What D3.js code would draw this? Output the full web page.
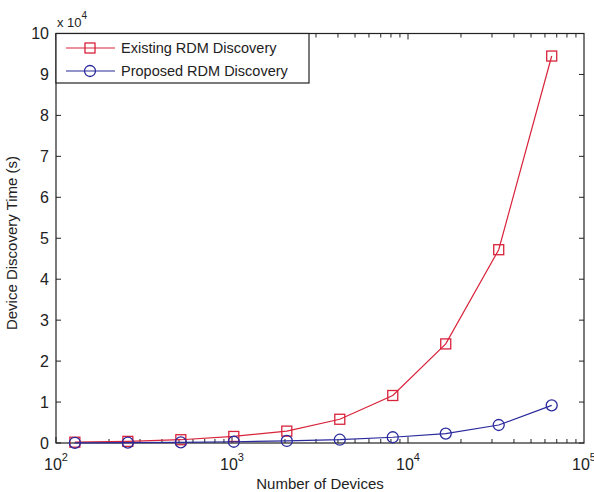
<!DOCTYPE html>
<html><head><meta charset="utf-8">
<script src="https://cdn.jsdelivr.net/npm/d3@7"></script>
<style>body{margin:0;background:#fff}svg{display:block}text{font-family:"Liberation Sans",Arial,sans-serif;fill:#222}</style>
</head><body><svg id="c" width="594" height="492"></svg>
<script>
const devices = [128,256,512,1024,2048,4096,8192,16384,32768,65536];
const existing = [200,400,800,1600,2900,5800,11600,24200,47200,94500];
const proposed = [50,100,150,300,500,800,1400,2300,4400,9200];
const seriesNames = ["Existing RDM Discovery","Proposed RDM Discovery"];
const yTicks = [0,1,2,3,4,5,6,7,8,9,10];
const xTicks = [100,1000,10000,100000];
const xLabel = "Number of Devices", yLabel = "Device Discovery Time (s)";

const svg = d3.select("#c");
const L=56, R=584, T=33.5, B=443;
const x = d3.scaleLog().domain([100,100000]).range([L,R]);
const y = d3.scaleLinear().domain([0,100000]).range([B,T]);
const red="#d8233a", blue="#2a2a9c";

svg.append("rect").attr("width",594).attr("height",492).attr("fill","#fff");
svg.append("rect").attr("x",L).attr("y",T).attr("width",R-L).attr("height",B-T).attr("fill","none").attr("stroke","#222").attr("stroke-width",1.2);
const g = svg.append("g").attr("stroke","#222").attr("stroke-width",1);
yTicks.forEach(t=>{const yy=y(t*1e4);
 g.append("line").attr("x1",L).attr("x2",L+5).attr("y1",yy).attr("y2",yy);
 g.append("line").attr("x1",R).attr("x2",R-5).attr("y1",yy).attr("y2",yy);});
for(let d=100; d<100000; d*=10){ for(let k=1;k<10;k++){ const v=d*k; const xx=x(v); const len=k===1?6:4;
 g.append("line").attr("x1",xx).attr("x2",xx).attr("y1",B).attr("y2",B-len);
 g.append("line").attr("x1",xx).attr("x2",xx).attr("y1",T).attr("y2",T+len);}}
yTicks.forEach(t=>{ svg.append("text").attr("x",L-7).attr("y",y(t*1e4)+5.5).attr("text-anchor","end").attr("font-size",16).text(t);});
xTicks.forEach(t=>{ const e=Math.round(Math.log10(t));
 const tx=svg.append("text").attr("x",x(t)).attr("y",470).attr("text-anchor","middle").attr("font-size",16);
 tx.append("tspan").text("10");
 tx.append("tspan").attr("dy",-9).attr("font-size",11).text(e);});
const m=svg.append("text").attr("x",57).attr("y",27).attr("font-size",13);
m.append("tspan").text("x 10");
m.append("tspan").attr("dy",-8).attr("font-size",10).text("4");
svg.append("text").attr("x",(L+R)/2).attr("y",489).attr("text-anchor","middle").attr("font-size",15).text(xLabel);
svg.append("text").attr("transform",`translate(17,243) rotate(-90)`).attr("text-anchor","middle").attr("font-size",15).text(yLabel);

const line = d3.line().x((d,i)=>x(devices[i])).y(d=>y(d));
function drawSeries(vals,color,shape){
 svg.append("path").datum(vals).attr("d",line).attr("fill","none").attr("stroke",color).attr("stroke-width",1.2);
 vals.forEach((v,i)=>marker(x(devices[i]),y(v),color,shape));
}
function marker(cx,cy,color,shape){
 if(shape==="square") svg.append("rect").attr("x",cx-5).attr("y",cy-5).attr("width",10).attr("height",10).attr("fill","none").attr("stroke",color).attr("stroke-width",1.3);
 else svg.append("circle").attr("cx",cx).attr("cy",cy).attr("r",5.5).attr("fill","none").attr("stroke",color).attr("stroke-width",1.3);
}
drawSeries(existing,red,"square");
drawSeries(proposed,blue,"circle");
svg.append("rect").attr("x",L).attr("y",T).attr("width",253).attr("height",49.5).attr("fill","#fff").attr("stroke","#222").attr("stroke-width",1.2);
[[red,"square",48],[blue,"circle",71]].forEach((s,i)=>{
 svg.append("line").attr("x1",66).attr("x2",115).attr("y1",s[2]).attr("y2",s[2]).attr("stroke",s[0]).attr("stroke-width",1.2);
 marker(90,s[2],s[0],s[1]);
 svg.append("text").attr("x",121).attr("y",s[2]+5).attr("font-size",14.5).text(seriesNames[i]);
});
</script></body></html>
